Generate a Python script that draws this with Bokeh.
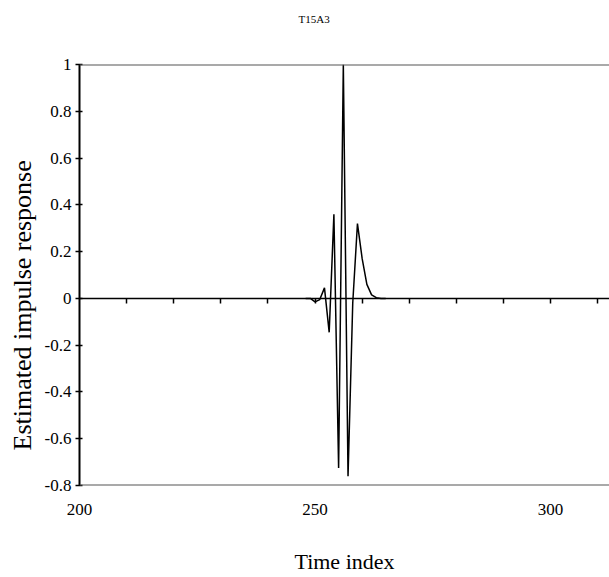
import math
from bokeh.plotting import figure
from bokeh.models import Range1d, LinearAxis, FixedTicker, Span, Title
from bokeh.embed import file_html
from bokeh.resources import INLINE

# ---- data ----
time_index = [248, 249, 250, 251, 252, 253, 254, 255, 256, 257, 258, 259, 260, 261, 262, 263, 264, 265]
response = [0.0, 0.0, -0.015, -0.005, 0.045, -0.145, 0.36, -0.725, 1.0, -0.76, -0.02, 0.32, 0.17, 0.06, 0.015, 0.003, 0.0, 0.0]

y_ticks = [-0.8, -0.6, -0.4, -0.2, 0, 0.2, 0.4, 0.6, 0.8, 1]
y_tick_labels = ["-0.8", "-0.6", "-0.4", "-0.2", "0", "0.2", "0.4", "0.6", "0.8", "1"]
x_label_ticks = [200, 250, 300]
x_minor_ticks = [210, 220, 230, 240, 250, 260, 270, 280, 290, 300, 310]

title_text = "T15A3"
x_title = "Time index"
y_title = "Estimated impulse response"

FONT = "Liberation Serif"

p = figure(width=609, height=577, output_backend="svg", toolbar_location=None,
           x_range=Range1d(200, 312.5), y_range=Range1d(-0.8, 1.0),
           x_axis_type=None, y_axis_type=None,
           min_border_left=78, min_border_right=0, min_border_top=64, min_border_bottom=92)
p.background_fill_color = "white"
p.border_fill_color = "white"
p.outline_line_color = None
p.xgrid.visible = False
p.ygrid.visible = False

# title (extra blank lines lift it well above the frame)
p.title.text = title_text + "\n\n"
p.title.text_font = FONT
p.title.text_font_size = "11px"
p.title.text_font_style = "normal"
p.title.text_color = "black"
p.title.text_line_height = 1.45
p.title.align = "left"
p.title.offset = 219
p.title.standoff = 10

# frame top / bottom lines
p.add_layout(Span(location=1.0, dimension="width", line_color="#555555", line_width=2))
p.add_layout(Span(location=-0.8, dimension="width", line_color="#555555", line_width=2))

# left axis
yax = LinearAxis(ticker=FixedTicker(ticks=y_ticks),
                 major_label_overrides={t: l for t, l in zip(y_ticks, y_tick_labels)})
yax.axis_line_color = "black"
yax.axis_line_width = 2
yax.major_tick_line_color = "black"
yax.major_tick_line_width = 1.5
yax.major_tick_in = 3
yax.major_tick_out = 4
yax.minor_tick_line_color = None
yax.major_label_text_font = FONT
yax.major_label_text_font_size = "17px"
yax.major_label_text_color = "black"
yax.major_label_standoff = 4
p.add_layout(yax, "left")

# y title as a side title
ytitle = Title(text=y_title, align="left", offset=35, standoff=10,
               text_font=FONT, text_font_size="26px", text_font_style="normal",
               text_color="black")
p.add_layout(ytitle, "left")

# zero-line axis with small downward ticks
zax = LinearAxis(ticker=FixedTicker(ticks=x_minor_ticks), fixed_location=0)
zax.axis_line_color = "black"
zax.axis_line_width = 1.5
zax.major_tick_line_color = "black"
zax.major_tick_line_width = 1.5
zax.major_tick_in = 0
zax.major_tick_out = 5
zax.minor_tick_line_color = None
zax.major_label_text_color = None
zax.major_label_text_font_size = "1px"
zax.major_label_standoff = 0
p.add_layout(zax, "below")

# bottom label axis (labels only)
xax = LinearAxis(ticker=FixedTicker(ticks=x_label_ticks))
xax.axis_line_color = None
xax.major_tick_line_color = None
xax.minor_tick_line_color = None
xax.major_label_text_font = FONT
xax.major_label_text_font_size = "17px"
xax.major_label_text_color = "black"
xax.major_label_standoff = 12
xax.axis_label = x_title
xax.axis_label_text_font = FONT
xax.axis_label_text_font_size = "22px"
xax.axis_label_text_font_style = "normal"
xax.axis_label_text_color = "black"
xax.axis_label_standoff = 31
p.add_layout(xax, "below")

# the curve
p.line(time_index, response, line_color="black", line_width=1.5)

open("out.html", "w").write(file_html(p, INLINE))
